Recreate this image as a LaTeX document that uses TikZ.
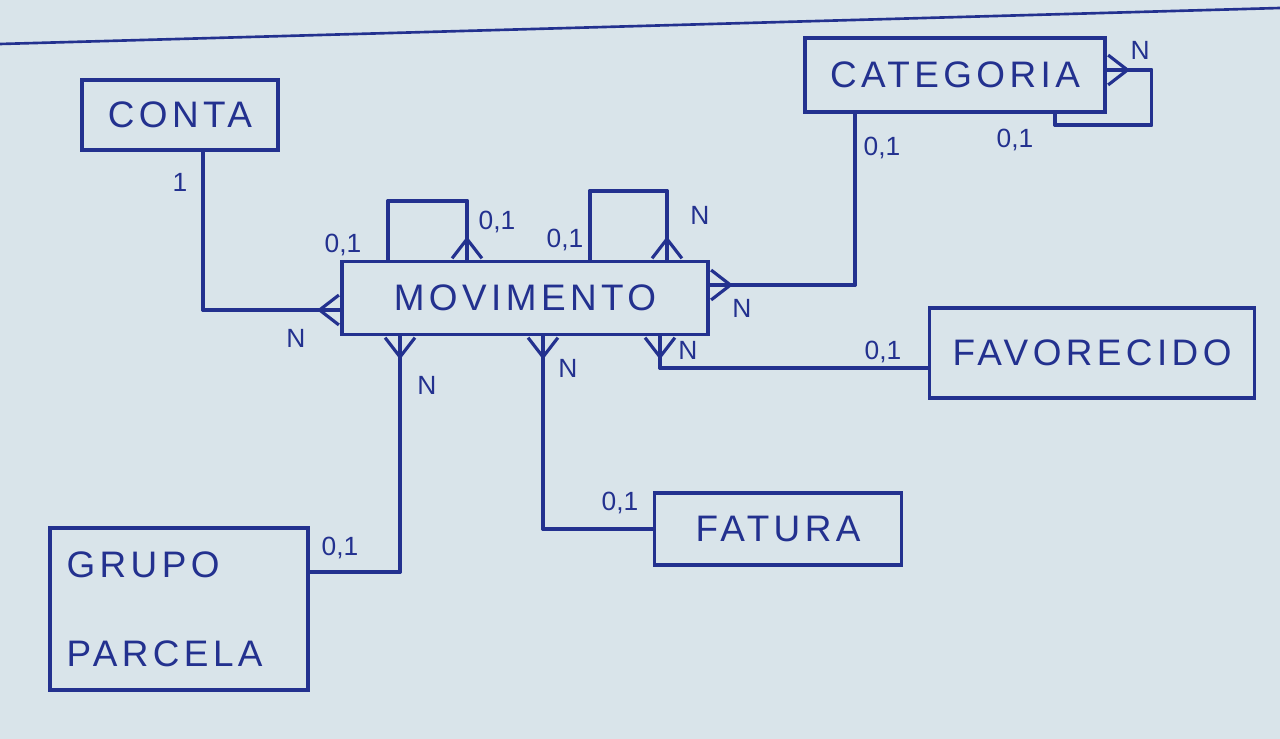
\documentclass[tikz,border=0pt]{standalone}
\usepackage{fontspec}
\setmainfont{Liberation Sans}
\newfontfamily\handfont[LetterSpace=12]{Liberation Sans}
\usetikzlibrary{arrows.meta}
\definecolor{ink}{HTML}{23318F}
\definecolor{paper}{HTML}{D9E4EA}
\tikzset{
  entity/.style={draw=ink, line width=1.8pt, text=ink, inner sep=0pt,
    font=\handfont\fontsize{21}{25}\selectfont},
  wire/.style={draw=ink, line width=1.8pt, line join=round, line cap=round},
  crowtip/.tip={Straight Barb[reversed, length=11pt, width=17pt, line width=1.8pt]},
  lbl/.style={text=ink, inner sep=1pt, font=\fontsize{15}{18}\selectfont},
}
% a relationship line: drawn plain (reaching the box) and again with the crow's foot
\newcommand\relline[2]{\draw[wire] #2; \draw[wire, #1] #2;}
\begin{document}
\begin{tikzpicture}[x=0.02cm, y=-0.02cm]
\useasboundingbox (0,0) rectangle (1280,739);
\fill[paper] (0,0) rectangle (1280,739);
\draw[ink, line width=1.5pt] (0,44) -- (1280,8);

% entities
\node[entity, minimum width=3.92cm, minimum height=1.4cm] (conta) at (180,115) {CONTA};
\node[entity, minimum width=6cm, minimum height=1.48cm] (cat) at (955,75) {CATEGORIA};
\node[entity, minimum width=7.32cm, minimum height=1.46cm] (mov) at (525,298) {MOVIMENTO};
\node[entity, minimum width=6.5cm, minimum height=1.8cm] (fav) at (1092,353) {FAVORECIDO};
\node[entity, minimum width=4.94cm, minimum height=1.44cm] (fat) at (778,529) {FATURA};
\node[entity, minimum width=5.16cm, minimum height=3.24cm, align=left, text width=4.5cm] (grp) at (179,609) {GRUPO\\[0.9cm]PARCELA};

% relationships
\relline{-crowtip}{([xshift=0.46cm]conta.south) |- ([yshift=-0.24cm]mov.west)}
\relline{crowtip-}{([yshift=0.26cm]mov.east) -| ([xshift=-2cm]cat.south)}
\relline{crowtip-}{([yshift=0.1cm]cat.east) -- ++(0.9cm,0) -- ++(0,-1.1cm) -| ([xshift=2cm]cat.south)}
\relline{-crowtip}{([xshift=-2.74cm]mov.north) -- ++(0,1.18cm) -| ([xshift=-1.16cm]mov.north)}
\relline{-crowtip}{([xshift=1.3cm]mov.north) -- ++(0,1.38cm) -| ([xshift=2.84cm]mov.north)}
\relline{crowtip-}{([xshift=-2.5cm]mov.south) |- ([yshift=0.74cm]grp.east)}
\relline{crowtip-}{([xshift=0.36cm]mov.south) |- (fat.west)}
\relline{crowtip-}{([xshift=2.7cm]mov.south) |- ([yshift=-0.3cm]fav.west)}

% cardinalities
\node[lbl] (l1) at (180,182) {1};
\node[lbl] (l2) at (296,338) {N};
\node[lbl] (l3) at (742,308) {N};
\node[lbl] (l4) at (882,148) {0,1};
\node[lbl] (l5) at (1140,50) {N};
\node[lbl] (l6) at (1015,140) {0,1};
\node[lbl] (l7) at (343,245) {0,1};
\node[lbl] (l8) at (497,222) {0,1};
\node[lbl] (l9) at (565,240) {0,1};
\node[lbl] (l10) at (700,215) {N};
\node[lbl] (l11) at (427,385) {N};
\node[lbl] (l12) at (340,548) {0,1};
\node[lbl] (l13) at (568,368) {N};
\node[lbl] (l14) at (620,503) {0,1};
\node[lbl] (l15) at (688,350) {N};
\node[lbl] (l16) at (883,352) {0,1};
\end{tikzpicture}
\end{document}
